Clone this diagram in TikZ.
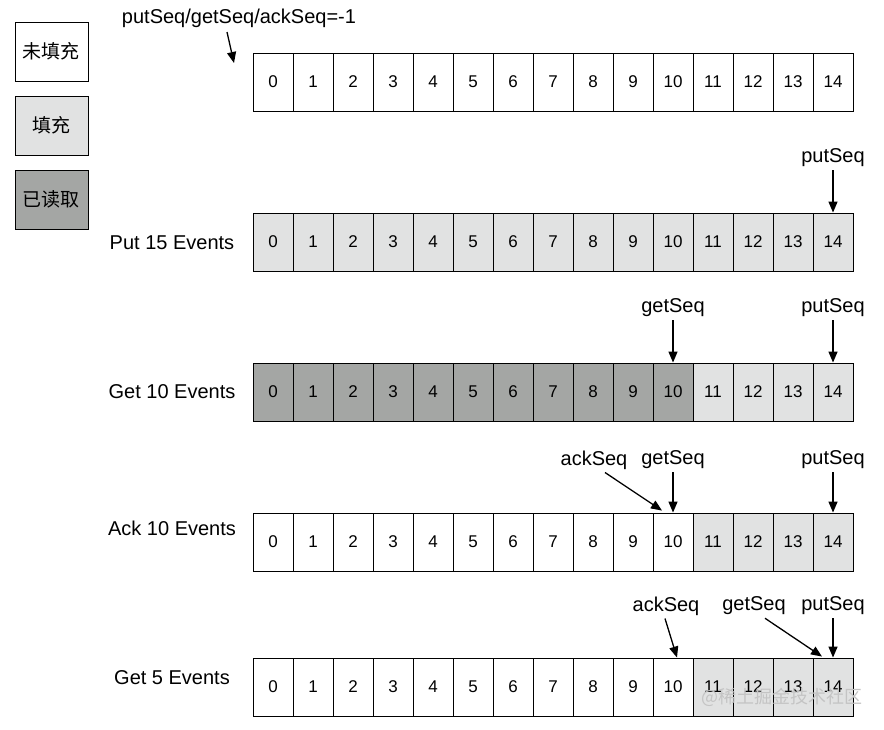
\documentclass[tikz,border=0pt]{standalone}
\usepackage{fontspec}
\setmainfont{Liberation Sans}
\newfontfamily\cjk{Noto Sans CJK SC}
\usetikzlibrary{arrows.meta}
\definecolor{fillc}{HTML}{E1E2E2}
\definecolor{readc}{HTML}{A4A6A4}
\definecolor{wmark}{HTML}{C4C4C4}
\begin{document}
\begin{tikzpicture}[x=1pt,y=-1pt,
  cell/.style={draw, line width=0.9pt, minimum width=40pt, minimum height=58pt, inner sep=0pt, font=\fontsize{17}{19}\selectfont},
  emptyc/.style={cell, fill=white},
  fullc/.style={cell, fill=fillc},
  readcell/.style={cell, fill=readc},
  lbl/.style={font=\fontsize{20}{23}\selectfont, inner sep=0pt},
  legend/.style={draw, line width=0.9pt, minimum width=73pt, minimum height=59pt, inner sep=0pt, font=\cjk\fontsize{19}{22}\selectfont},
  ptr/.style={-{Triangle[length=11pt,width=9pt]}, line width=1.3pt}]
\useasboundingbox (0,0) rectangle (884,729);
% legend
\node[legend, fill=white] (lg1) at (51.5,51.5) {未填充};
\node[legend, fill=fillc] (lg2) at (51.5,125.5) {填充};
\node[legend, fill=readc] (lg3) at (51.5,199.5) {已读取};
% row 1
\foreach \i in {0,...,14} \node[emptyc] (a\i) at (273+40*\i,82) {\i};
\node[lbl] (init) at (239,18) {putSeq/getSeq/ackSeq=-1};
\coordinate (initS) at (227,32);
\coordinate (initE) at (234,63);
\draw[ptr] (initS) -- (initE);
% row 2
\foreach \i in {0,...,14} \node[fullc] (b\i) at (273+40*\i,242) {\i};
\node[lbl] (put2) at (172,243) {Put 15 Events};
\node[lbl] (p2) at (833,158) {putSeq};
\draw[ptr] ([yshift=-3pt]p2.south) -- (b14.north);
% row 3
\foreach \i in {0,...,10} \node[readcell] (c\i) at (273+40*\i,392) {\i};
\foreach \i in {11,...,14} \node[fullc] (c\i) at (273+40*\i,392) {\i};
\node[lbl] (get3) at (172,392) {Get 10 Events};
\node[lbl] (g3) at (673,308) {getSeq};
\node[lbl] (p3) at (833,308) {putSeq};
\draw[ptr] ([yshift=-3pt]g3.south) -- (c10.north);
\draw[ptr] ([yshift=-3pt]p3.south) -- (c14.north);
% row 4
\foreach \i in {0,...,10} \node[emptyc] (d\i) at (273+40*\i,542) {\i};
\foreach \i in {11,...,14} \node[fullc] (d\i) at (273+40*\i,542) {\i};
\node[lbl] (ack4) at (172,528) {Ack 10 Events};
\node[lbl] (k4) at (594,460) {ackSeq};
\node[lbl] (g4) at (673,460) {getSeq};
\node[lbl] (p4) at (833,460) {putSeq};
\draw[ptr] ([xshift=11pt,yshift=-3pt]k4.south) -- ([xshift=-11pt,yshift=2pt]d10.north);
\draw[ptr] ([yshift=-3pt]g4.south) -- (d10.north);
\draw[ptr] ([yshift=-3pt]p4.south) -- (d14.north);
% row 5
\foreach \i in {0,...,10} \node[emptyc] (e\i) at (273+40*\i,687) {\i};
\foreach \i in {11,...,14} \node[fullc] (e\i) at (273+40*\i,687) {\i};
\node[lbl] (get5) at (172,678) {Get 5 Events};
\node[lbl] (k5) at (666,606) {ackSeq};
\node[lbl] (g5) at (754,606) {getSeq};
\node[lbl] (p5) at (833,606) {putSeq};
\draw[ptr] ([xshift=-1pt,yshift=-3pt]k5.south) -- ([xshift=4pt]e10.north);
\draw[ptr] ([xshift=11pt,yshift=-3pt]g5.south) -- ([xshift=-11pt,yshift=1pt]e14.north);
\draw[ptr] ([yshift=-3pt]p5.south) -- (e14.north);
% watermark
\node[font=\cjk\fontsize{18}{20}\selectfont, text=wmark, inner sep=0pt] (wm) at (782,697) {@稀土掘金技术社区};
\end{tikzpicture}
\end{document}
